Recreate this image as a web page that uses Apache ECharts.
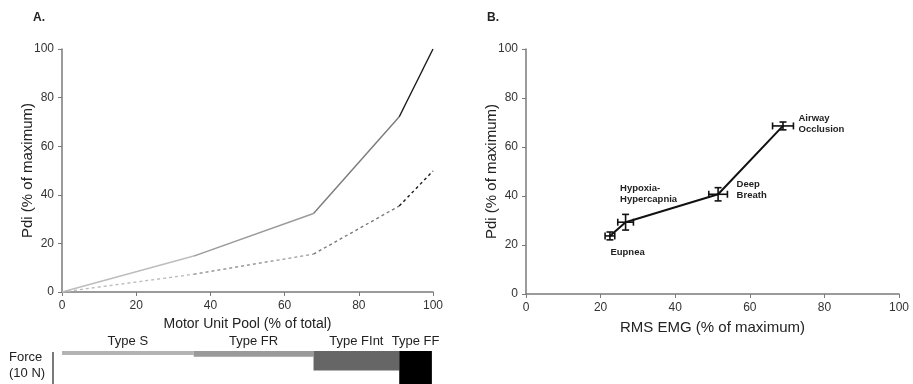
<!DOCTYPE html>
<html><head><meta charset="utf-8">
<script src="https://cdn.jsdelivr.net/npm/echarts@6/dist/echarts.min.js"></script>
<style>html,body{margin:0;padding:0;background:#fff}#c{width:913px;height:384px}</style>
</head><body><div id="c"></div>
<script>
// Panel A: Pdi vs motor unit pool recruitment
var poolX = [0, 35.5, 67.8, 90.9, 100];
var pdiSolid = [0, 14.8, 32.3, 72.1, 100];
var pdiDashed = [0, 7.3, 15.6, 35.4, 49.8];
var segColors = ['#bdbdbd', '#9a9a9a', '#7a7a7a', '#1a1a1a'];
// Motor unit types: boundaries along pool, force (10 N scale)
var unitTypes = ['Type S', 'Type FR', 'Type FInt', 'Type FF'];
var unitStart = [0, 35.5, 67.8, 90.9];
var unitEnd = [35.5, 67.8, 90.9, 99.7];
var unitForce = [1.25, 1.8, 6.1, 12];
var unitColors = ['#b3b3b3', '#9a9a9a', '#666666', '#000000'];
// Panel B: Pdi vs RMS EMG
var condNames = ['Eupnea', 'Hypoxia-\nHypercapnia', 'Deep\nBreath', 'Airway\nOcclusion'];
var emg = [22.5, 26.7, 51.5, 68.9];
var emgErr = [1.3, 2.1, 2.5, 2.8];
var pdi = [23.7, 29.3, 40.7, 68.6];
var pdiErr = [1.6, 3.2, 2.7, 1.6];

var FONT = 'Liberation Sans, Arial, sans-serif';
var axisLine = {show: true, lineStyle: {color: '#7a7a7a', width: 1.5}};
var axisTick = {show: true, length: 4, lineStyle: {color: '#7a7a7a'}};
var axisLabel = {color: '#333', fontSize: 12, fontFamily: FONT};

var series = [];
// Panel A lines, segment by segment
function addSegs(ys, dashed) {
  for (var i = 0; i < poolX.length - 1; i++) {
    series.push({
      type: 'line', xAxisIndex: 0, yAxisIndex: 0, symbol: 'none', silent: true,
      data: [[poolX[i], ys[i]], [poolX[i + 1], ys[i + 1]]],
      lineStyle: {color: segColors[i], width: 1.4, type: dashed ? [3, 3] : 'solid'}
    });
  }
}
addSegs(pdiSolid, false);
addSegs(pdiDashed, true);

// Motor unit force bars
series.push({
  type: 'custom', xAxisIndex: 1, yAxisIndex: 1, clip: false, silent: true,
  data: unitTypes.map(function (t, i) { return [unitStart[i], unitEnd[i], unitForce[i], i]; }),
  renderItem: function (params, api) {
    var p0 = api.coord([api.value(0), 0]);
    var p1 = api.coord([api.value(1), api.value(2)]);
    var idx = api.value(3);
    var mid = api.coord([(api.value(0) + api.value(1)) / 2, 0]);
    return {type: 'group', children: [
      {type: 'rect', shape: {x: p0[0], y: p0[1], width: p1[0] - p0[0], height: p1[1] - p0[1]},
       style: {fill: unitColors[idx]}},
      {type: 'text', style: {text: unitTypes[idx], x: mid[0], y: p0[1] - 10, align: 'center',
        verticalAlign: 'middle', fill: '#222', font: '13px ' + FONT}}
    ]};
  }
});

// Panel B: error bars
series.push({
  type: 'custom', xAxisIndex: 2, yAxisIndex: 2, silent: true, z: 3,
  data: emg.map(function (x, i) { return [x, pdi[i], emgErr[i], pdiErr[i]]; }),
  renderItem: function (params, api) {
    var x = api.value(0), y = api.value(1), ex = api.value(2), ey = api.value(3);
    var l = api.coord([x - ex, y]), r = api.coord([x + ex, y]);
    var t = api.coord([x, y + ey]), b = api.coord([x, y - ey]);
    var cap = 3.5;
    var st = {stroke: '#111', lineWidth: 1.6};
    return {type: 'group', children: [
      {type: 'line', shape: {x1: l[0], y1: l[1], x2: r[0], y2: r[1]}, style: st},
      {type: 'line', shape: {x1: l[0], y1: l[1] - cap, x2: l[0], y2: l[1] + cap}, style: st},
      {type: 'line', shape: {x1: r[0], y1: r[1] - cap, x2: r[0], y2: r[1] + cap}, style: st},
      {type: 'line', shape: {x1: t[0], y1: t[1], x2: b[0], y2: b[1]}, style: st},
      {type: 'line', shape: {x1: t[0] - cap, y1: t[1], x2: t[0] + cap, y2: t[1]}, style: st},
      {type: 'line', shape: {x1: b[0] - cap, y1: b[1], x2: b[0] + cap, y2: b[1]}, style: st}
    ]};
  }
});
var labelOffsets = [[1, 17], [-5, -28], [19, -4], [16, -1.5]];
series.push({
  type: 'line', xAxisIndex: 2, yAxisIndex: 2, symbol: 'circle', symbolSize: 1, silent: true,
  lineStyle: {color: '#111', width: 2}, itemStyle: {color: '#111'},
  data: emg.map(function (x, i) {
    return {value: [x, pdi[i]], label: {show: true, formatter: condNames[i], position: labelOffsets[i],
      align: 'left', verticalAlign: 'middle', fontSize: 9.5, fontWeight: 'bold', lineHeight: 11,
      color: '#222', fontFamily: FONT}};
  })
});

var chart = echarts.init(document.getElementById('c'));
chart.setOption({
  animation: false,
  backgroundColor: '#fff',
  title: [
    {text: 'A.', left: 28, top: 7, textStyle: {fontSize: 12, fontWeight: 'bold', color: '#222', fontFamily: FONT}},
    {text: 'B.', left: 482, top: 7, textStyle: {fontSize: 12, fontWeight: 'bold', color: '#222', fontFamily: FONT}}
  ],
  grid: [
    {left: 62, right: 480, top: 49, bottom: 92},
    {left: 62, right: 480, top: 351, height: 32},
    {left: 526, right: 14, top: 49, bottom: 90}
  ],
  xAxis: [
    {gridIndex: 0, type: 'value', min: 0, max: 100, interval: 20, splitLine: {show: false},
     axisLine: axisLine, axisTick: axisTick, axisLabel: axisLabel,
     name: 'Motor Unit Pool (% of total)', nameLocation: 'middle', nameGap: 25, nameMoveOverlap: false,
     nameTextStyle: {fontSize: 14, color: '#222', fontFamily: FONT}},
    {gridIndex: 1, type: 'value', min: 0, max: 100, show: false},
    {gridIndex: 2, type: 'value', min: 0, max: 100, interval: 20, splitLine: {show: false},
     axisLine: axisLine, axisTick: axisTick, axisLabel: axisLabel,
     name: 'RMS EMG (% of maximum)', nameLocation: 'middle', nameGap: 26, nameMoveOverlap: false,
     nameTextStyle: {fontSize: 15, color: '#222', fontFamily: FONT}}
  ],
  yAxis: [
    {gridIndex: 0, type: 'value', min: 0, max: 100, interval: 20, splitLine: {show: false},
     axisLine: axisLine, axisTick: axisTick, axisLabel: axisLabel,
     name: 'Pdi (% of maximum)', nameLocation: 'middle', nameGap: 27, nameMoveOverlap: false,
     nameTextStyle: {fontSize: 15, color: '#222', fontFamily: FONT}},
    {gridIndex: 1, type: 'value', min: 0, max: 10, inverse: true, show: false},
    {gridIndex: 2, type: 'value', min: 0, max: 100, interval: 20, splitLine: {show: false},
     axisLine: axisLine, axisTick: axisTick, axisLabel: axisLabel,
     name: 'Pdi (% of maximum)', nameLocation: 'middle', nameGap: 27, nameMoveOverlap: false,
     nameTextStyle: {fontSize: 15, color: '#222', fontFamily: FONT}}
  ],
  graphic: [
    {type: 'text', left: 9, top: 349, style: {text: 'Force\n(10 N)', font: '13px ' + FONT, fill: '#222', lineHeight: 16}},
    {type: 'line', shape: {x1: 53, y1: 352, x2: 53, y2: 384}, style: {stroke: '#222', lineWidth: 1.2}}
  ],
  series: series
});
</script></body></html>
